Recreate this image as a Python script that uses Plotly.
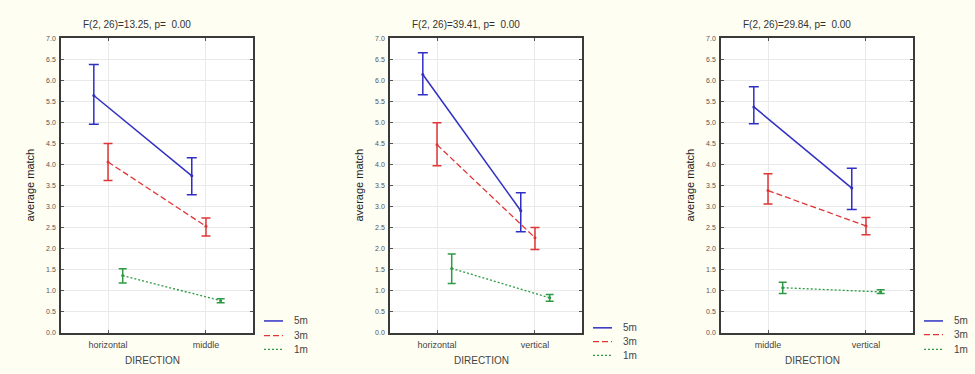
import plotly.graph_objects as go

# ---------------- data ----------------
series_names = ["5m", "3m", "1m"]
series_colors = ["#2f2fc4", "#e03535", "#2e9a44"]

panel_titles = ["F(2, 26)=13.25, p=  0.00",
                "F(2, 26)=39.41, p=  0.00",
                "F(2, 26)=29.84, p=  0.00"]
panel_categories = [["horizontal", "middle"],
                    ["horizontal", "vertical"],
                    ["middle", "vertical"]]

# panel 1 : horizontal vs middle   (rows: 5m, 3m, 1m)
p1_mean = [[5.64, 3.73], [4.06, 2.53], [1.36, 0.76]]
p1_low = [[4.96, 3.28], [3.62, 2.30], [1.18, 0.71]]
p1_high = [[6.38, 4.16], [4.50, 2.73], [1.52, 0.81]]

# panel 2 : horizontal vs vertical
p2_mean = [[6.14, 2.90], [4.47, 2.26], [1.53, 0.83]]
p2_low = [[5.66, 2.40], [3.97, 1.98], [1.17, 0.75]]
p2_high = [[6.66, 3.33], [4.99, 2.50], [1.87, 0.91]]

# panel 3 : middle vs vertical
p3_mean = [[5.37, 3.44], [3.38, 2.54], [1.07, 0.97]]
p3_low = [[4.97, 2.93], [3.06, 2.33], [0.93, 0.93]]
p3_high = [[5.85, 3.91], [3.78, 2.74], [1.20, 1.02]]

y_ticks = [0.0, 0.5, 1.0, 1.5, 2.0, 2.5, 3.0, 3.5, 4.0, 4.5, 5.0, 5.5, 6.0, 6.5, 7.0]

# ---------------- layout helpers ----------------
W, H = 975, 374
FONT = "Liberation Sans, Arial, sans-serif"


def X(px):
    return px / W


def Y(py):
    return 1 - py / H


panel_left = [61, 390, 721]
panel_w = 192
frame_top, frame_bot = 35, 335
legend_y = [[323, 338, 352], [330, 344, 358], [323, 337, 352]]

series_offsets = [-0.145, 0.0, 0.15]
series_dash = ["solid", "6px,3px", "2px,2px"]
series_width = [1.5, 1.3, 1.3]
cap_width = [5, 4.5, 4]

means = [p1_mean, p2_mean, p3_mean]
lows = [p1_low, p2_low, p3_low]
highs = [p1_high, p2_high, p3_high]

fig = go.Figure()
annotations = []
shapes = []

for p in range(3):
    ax = "" if p == 0 else str(p + 1)
    for s in range(3):
        m = means[p][s]
        lo = lows[p][s]
        hi = highs[p][s]
        xs = [i + series_offsets[s] for i in range(len(panel_categories[p]))]
        fig.add_trace(go.Scatter(
            x=xs, y=m, mode="lines+markers", name=series_names[s],
            xaxis="x" + ax, yaxis="y" + ax, showlegend=False,
            line=dict(color=series_colors[s], width=series_width[s], dash=series_dash[s]),
            marker=dict(color=series_colors[s], size=3),
            error_y=dict(type="data", symmetric=False,
                         array=[h - v for h, v in zip(hi, m)],
                         arrayminus=[v - l for v, l in zip(m, lo)],
                         color=series_colors[s], thickness=1.5, width=cap_width[s]),
        ))

    L = panel_left[p]
    R = L + panel_w
    common = dict(showline=True, linecolor="#3a3a3a", linewidth=1.5, mirror="allticks",
                  ticks="inside", ticklen=3, tickcolor="#555", tickwidth=1,
                  showgrid=True, gridcolor="#e9e9e9", gridwidth=1, zeroline=False)
    fig.update_layout(**{
        "xaxis" + ax: dict(domain=[X(L), X(R)], anchor="y" + ax, range=[-0.48, 1.48],
                           tickvals=list(range(len(panel_categories[p]))),
                           ticktext=panel_categories[p],
                           tickfont=dict(family=FONT, size=9, color="#444"),
                           ticklabelstandoff=3, **common),
        "yaxis" + ax: dict(domain=[Y(frame_bot), Y(frame_top)], anchor="x" + ax,
                           range=[0, 7], tickvals=y_ticks,
                           ticktext=["%.1f" % v for v in y_ticks],
                           tickfont=dict(family=FONT, size=7, color="#555"),
                           ticklabelstandoff=2, **common),
    })

    # title
    annotations.append(dict(x=X(L + 76), y=Y(21), xref="paper", yref="paper",
                            text=panel_titles[p], showarrow=False,
                            font=dict(family=FONT, size=10, color="#333"),
                            xanchor="center", yanchor="middle"))
    # y axis title
    annotations.append(dict(x=X(L - 31), y=Y(185), xref="paper", yref="paper",
                            text="average match", textangle=-90, showarrow=False,
                            font=dict(family=FONT, size=11, color="#222"),
                            xanchor="center", yanchor="middle"))
    # x axis title
    annotations.append(dict(x=X(L + panel_w / 2 - 5), y=Y(363), xref="paper", yref="paper",
                            text="DIRECTION", showarrow=False,
                            font=dict(family=FONT, size=10, color="#444"),
                            xanchor="center", yanchor="middle"))
    # legend
    lx0 = R + 11
    lx1 = lx0 + 19
    for s in range(3):
        ly = legend_y[p][s]
        shapes.append(dict(type="line", xref="paper", yref="paper",
                           x0=X(lx0), x1=X(lx1), y0=Y(ly), y1=Y(ly),
                           line=dict(color=series_colors[s], width=series_width[s],
                                     dash=series_dash[s])))
        annotations.append(dict(x=X(lx1 + 9), y=Y(ly), xref="paper", yref="paper",
                                text=series_names[s], showarrow=False,
                                font=dict(family=FONT, size=10, color="#444"),
                                xanchor="left", yanchor="middle"))

fig.update_layout(
    width=W, height=H, margin=dict(l=0, r=0, t=0, b=0),
    paper_bgcolor="#fefef3", plot_bgcolor="#ffffff",
    annotations=annotations, shapes=shapes, showlegend=False,
)

fig.write_html(
    "out.html",
    config={"displayModeBar": False},
    post_script="document.body.style.margin='0px';document.body.style.overflow='hidden';",
)
